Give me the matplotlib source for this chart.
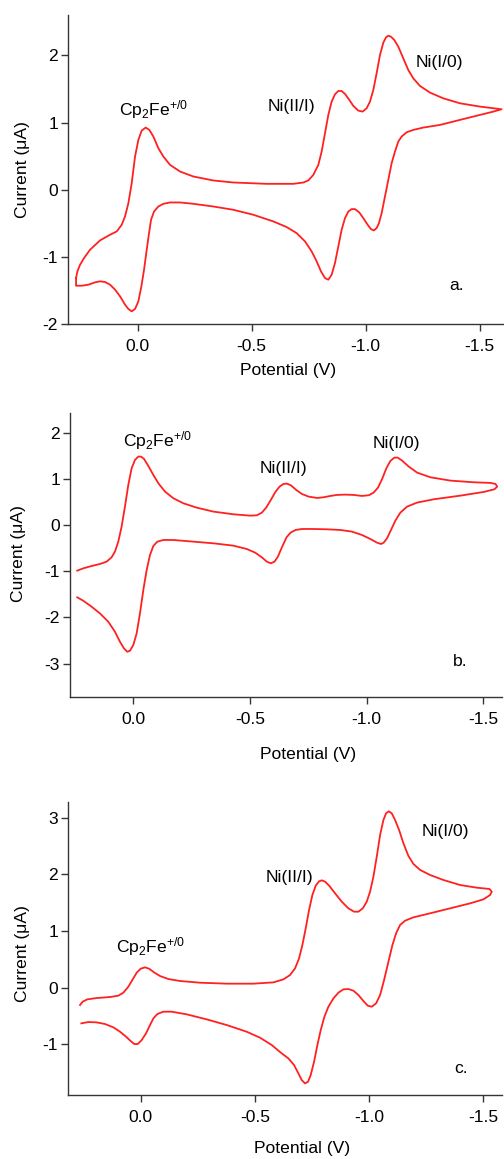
import matplotlib
matplotlib.use("Agg")
import matplotlib.pyplot as plt

plt.rcParams['font.family'] = ['Liberation Sans', 'DejaVu Sans']
plt.rcParams['mathtext.fontset'] = 'custom'
plt.rcParams['mathtext.rm'] = 'Liberation Sans'
plt.rcParams['mathtext.default'] = 'regular'

# ---------------- data (potential in V, current in uA) ----------------
E_a = [0.2705, 0.2646, 0.2529, 0.2354, 0.2091, 0.1652, 0.1213, 0.0921, 0.0702, 0.0556, 0.0409,
       0.0263, 0.0117, -0.0029, -0.0175, -0.0351, -0.0512, -0.0687, -0.0906, -0.1126, -0.1418,
       -0.1857, -0.2442, -0.3319, -0.4196, -0.5658, -0.6827, -0.7266, -0.7485, -0.7705, -0.7924,
       -0.8070, -0.8216, -0.8363, -0.8509, -0.8655, -0.8801, -0.8947, -0.9094, -0.9284, -0.9459,
       -0.9678, -0.9868, -1.0044, -1.0190, -1.0336, -1.0482, -1.0629, -1.0775, -1.0892, -1.0994,
       -1.1111, -1.1257, -1.1433, -1.1652, -1.1871, -1.2091, -1.2383, -1.2822, -1.3406, -1.4137,
       -1.5015, -1.5965,
       -1.5599, -1.5015, -1.4137, -1.3260, -1.2529, -1.2091, -1.1798, -1.1579, -1.1433, -1.1287,
       -1.1140, -1.0994, -1.0848, -1.0702, -1.0585, -1.0482, -1.0365, -1.0234, -1.0088, -0.9898,
       -0.9722, -0.9532, -0.9386, -0.9240, -0.9094, -0.8947, -0.8801, -0.8655, -0.8509, -0.8363,
       -0.8216, -0.8041, -0.7851, -0.7632, -0.7339, -0.6974, -0.6535, -0.5950, -0.5073, -0.4196,
       -0.3319, -0.2442, -0.1857, -0.1418, -0.1126, -0.0906, -0.0716, -0.0585, -0.0497, -0.0395,
       -0.0278, -0.0161, -0.0029, 0.0117, 0.0263, 0.0409, 0.0556, 0.0775, 0.0994, 0.1213, 0.1433,
       0.1652, 0.1871, 0.2164, 0.2456, 0.2705, 0.2705]
I_a = [-1.312, -1.213, -1.114, -1.015, -0.891, -0.752, -0.668, -0.619, -0.520, -0.396, -0.198,
       0.099, 0.495, 0.743, 0.881, 0.926, 0.891, 0.792, 0.619, 0.495, 0.371,
       0.272, 0.198, 0.139, 0.109, 0.089, 0.089, 0.109, 0.139, 0.223, 0.371,
       0.569, 0.842, 1.114, 1.312, 1.421, 1.470, 1.470, 1.426, 1.337, 1.248,
       1.178, 1.163, 1.213, 1.312, 1.485, 1.733, 2.005, 2.188, 2.267, 2.292,
       2.277, 2.228, 2.129, 1.955, 1.782, 1.658, 1.545, 1.446, 1.361, 1.287,
       1.238, 1.198,
       1.163, 1.114, 1.040, 0.965, 0.926, 0.891, 0.856, 0.792, 0.718, 0.569,
       0.396, 0.149, -0.099, -0.347, -0.495, -0.569, -0.604, -0.584, -0.520, -0.421,
       -0.337, -0.287, -0.287, -0.322, -0.421, -0.594, -0.842, -1.089, -1.262, -1.337,
       -1.312, -1.213, -1.064, -0.916, -0.767, -0.644, -0.554, -0.470, -0.371, -0.297,
       -0.248, -0.208, -0.188, -0.188, -0.208, -0.248, -0.322, -0.446, -0.644, -0.891,
       -1.188, -1.436, -1.658, -1.772, -1.807, -1.772, -1.708, -1.584, -1.485, -1.411, -1.371,
       -1.361, -1.376, -1.411, -1.426, -1.426, -1.312]

E_b = [0.2403, 0.2146, 0.1788, 0.1431, 0.1144, 0.0930, 0.0787, 0.0644, 0.0501, 0.0358, 0.0215,
       0.0072, -0.0072, -0.0215, -0.0329, -0.0458, -0.0644, -0.0858, -0.1073, -0.1359, -0.1717,
       -0.2146, -0.2718, -0.3433, -0.4292, -0.5007, -0.5293, -0.5508, -0.5694, -0.5894, -0.6080,
       -0.6266, -0.6438, -0.6581, -0.6753, -0.6981, -0.7225, -0.7511, -0.7868, -0.8155, -0.8441,
       -0.8727, -0.9084, -0.9442, -0.9800, -1.0086, -1.0300, -1.0486, -1.0658, -1.0844, -1.1016,
       -1.1187, -1.1330, -1.1516, -1.1803, -1.2160, -1.2732, -1.3591, -1.4592, -1.5308, -1.5522,
       -1.5594, -1.5479, -1.5021, -1.4020, -1.2876, -1.2160, -1.1731, -1.1445, -1.1230, -1.1044,
       -1.0873, -1.0730, -1.0615, -1.0443, -1.0157, -0.9800, -0.9371, -0.8870, -0.8298, -0.7725,
       -0.7225, -0.6953, -0.6738, -0.6567, -0.6381, -0.6195, -0.6052, -0.5894, -0.5722, -0.5508,
       -0.5222, -0.4864, -0.4292, -0.3433, -0.2575, -0.1717, -0.1288, -0.1030, -0.0858, -0.0715,
       -0.0572, -0.0429, -0.0286, -0.0143, 0.0000, 0.0143, 0.0258, 0.0401, 0.0572, 0.0787, 0.1073,
       0.1431, 0.1788, 0.2146, 0.2403]
I_b = [-0.989, -0.939, -0.888, -0.845, -0.794, -0.700, -0.578, -0.361, -0.036, 0.397, 0.866,
       1.227, 1.408, 1.480, 1.480, 1.430, 1.278, 1.083, 0.903, 0.722, 0.578,
       0.469, 0.375, 0.289, 0.231, 0.202, 0.209, 0.267, 0.375, 0.542, 0.708,
       0.830, 0.888, 0.895, 0.859, 0.758, 0.671, 0.614, 0.585, 0.599, 0.628,
       0.650, 0.657, 0.650, 0.628, 0.643, 0.700, 0.809, 0.989, 1.227, 1.386,
       1.458, 1.458, 1.394, 1.264, 1.134, 1.032, 0.960, 0.924, 0.910, 0.888,
       0.830, 0.773, 0.715, 0.635, 0.556, 0.484, 0.397, 0.267, 0.094, -0.108,
       -0.289, -0.383, -0.412, -0.383, -0.303, -0.217, -0.144, -0.108, -0.094, -0.087,
       -0.087, -0.108, -0.166, -0.267, -0.469, -0.686, -0.794, -0.830, -0.794, -0.700,
       -0.599, -0.520, -0.448, -0.397, -0.361, -0.325, -0.325, -0.361, -0.455, -0.650,
       -0.975, -1.408, -1.913, -2.347, -2.599, -2.722, -2.744, -2.671, -2.527, -2.310, -2.094,
       -1.913, -1.769, -1.639, -1.567]

E_c = [0.2657, 0.2540, 0.2336, 0.1927, 0.1343, 0.0978, 0.0759, 0.0540, 0.0350, 0.0175, 0.0000,
       -0.0190, -0.0365, -0.0584, -0.0847, -0.1212, -0.1723, -0.2599, -0.3766, -0.4934, -0.5810,
       -0.6248, -0.6540, -0.6759, -0.6934, -0.7080, -0.7226, -0.7372, -0.7518, -0.7664, -0.7810,
       -0.7927, -0.8073, -0.8263, -0.8511, -0.8803, -0.9095, -0.9343, -0.9533, -0.9723, -0.9898,
       -1.0044, -1.0190, -1.0336, -1.0482, -1.0628, -1.0745, -1.0861, -1.0993, -1.1139, -1.1314,
       -1.1504, -1.1723, -1.1942, -1.2234, -1.2672, -1.3255, -1.3985, -1.4715, -1.5270, -1.5372,
       -1.5299, -1.5007, -1.4423, -1.3547, -1.2672, -1.1942, -1.1577, -1.1358, -1.1182, -1.1022,
       -1.0847, -1.0657, -1.0482, -1.0307, -1.0117, -0.9942, -0.9752, -0.9533, -0.9314, -0.9095,
       -0.8876, -0.8657, -0.8438, -0.8219, -0.8044, -0.7883, -0.7737, -0.7591, -0.7445, -0.7328,
       -0.7197, -0.7051, -0.6905, -0.6715, -0.6467, -0.6175, -0.5737, -0.5226, -0.4642, -0.3766,
       -0.2891, -0.2015, -0.1358, -0.0993, -0.0730, -0.0555, -0.0409, -0.0234, -0.0044, 0.0131,
       0.0277, 0.0438, 0.0642, 0.0905, 0.1197, 0.1562, 0.1927, 0.2292, 0.2599]
I_c = [-0.306, -0.247, -0.206, -0.183, -0.165, -0.141, -0.088, 0.018, 0.147, 0.265, 0.336,
       0.359, 0.336, 0.271, 0.206, 0.153, 0.118, 0.088, 0.071, 0.071, 0.094,
       0.147, 0.224, 0.342, 0.518, 0.754, 1.049, 1.373, 1.638, 1.803, 1.879,
       1.897, 1.873, 1.797, 1.667, 1.520, 1.402, 1.343, 1.343, 1.402, 1.520,
       1.697, 1.962, 2.315, 2.698, 2.963, 3.081, 3.116, 3.081, 2.963, 2.786,
       2.551, 2.327, 2.186, 2.080, 1.991, 1.903, 1.814, 1.767, 1.744, 1.697,
       1.638, 1.561, 1.490, 1.402, 1.314, 1.243, 1.184, 1.108, 0.960, 0.754,
       0.459, 0.135, -0.130, -0.277, -0.336, -0.318, -0.236, -0.130, -0.053, -0.024,
       -0.029, -0.088, -0.189, -0.336, -0.513, -0.748, -1.013, -1.308, -1.543, -1.661,
       -1.691, -1.632, -1.514, -1.367, -1.249, -1.161, -1.013, -0.884, -0.778, -0.660,
       -0.560, -0.471, -0.424, -0.424, -0.465, -0.542, -0.660, -0.807, -0.925, -0.996,
       -0.996, -0.943, -0.866, -0.778, -0.701, -0.642, -0.613, -0.607, -0.630]

x_ticks = [0.0, -0.5, -1.0, -1.5]
x_ticklabels = ['0.0', '-0.5', '-1.0', '-1.5']
y_ticks_a = [-2, -1, 0, 1, 2]
y_ticks_b = [-3, -2, -1, 0, 1, 2]
y_ticks_c = [-1, 0, 1, 2, 3]

cp_label = r'Cp$_2$Fe$^{+/0}$'
ni21_label = 'Ni(II/I)'
ni10_label = 'Ni(I/0)'
panel_labels = ['a.', 'b.', 'c.']
xlabel = 'Potential (V)'
ylabel = 'Current (\u03bcA)'

# ---------------- figure ----------------
W, H = 504, 1159
fig = plt.figure(figsize=(W / 100, H / 100), dpi=100)
FS = 12.6
RED = '#ff2020'
SPINE = '#3a3333'


def px_axes(left, top, right, bottom):
    return fig.add_axes([left / W, 1 - bottom / H, (right - left) / W, (bottom - top) / H])


panels = [
    dict(box=(68.3, 15, 504, 324.3), xlim=(0.3045, -1.607), ylim=(-2.0, 2.6), E=E_a, I=I_a,
         yt=y_ticks_a, xlab=(288, 370), ylab=(23, 169.5),
         ann=[(0.080, 1.114, cp_label), (-0.570, 1.178, ni21_label), (-1.221, 1.822, ni10_label),
              (-1.367, -1.495, panel_labels[0])]),
    dict(box=(70.3, 412.7, 502, 697.3), xlim=(0.270, -1.580), ylim=(-3.73, 2.43), E=E_b, I=I_b,
         yt=y_ticks_b, xlab=(308, 755), ylab=(19, 554),
         ann=[(0.043, 1.711, cp_label), (-0.541, 1.119, ni21_label), (-1.026, 1.661, ni10_label),
              (-1.371, -3.054, panel_labels[1])]),
    dict(box=(68.3, 801.7, 502, 1095), xlim=(0.317, -1.582), ylim=(-1.896, 3.286), E=E_c, I=I_c,
         yt=y_ticks_c, xlab=(302, 1148), ylab=(23, 954),
         ann=[(0.109, 0.624, cp_label), (-0.546, 1.867, ni21_label), (-1.231, 2.680, ni10_label),
              (-1.374, -1.502, panel_labels[2])]),
]

for p in panels:
    ax = px_axes(*p['box'])
    ax.plot(p['E'], p['I'], color=RED, lw=1.3, solid_joinstyle='round', clip_on=True)
    ax.set_xlim(*p['xlim'])
    ax.set_ylim(*p['ylim'])
    for s in ('top', 'right'):
        ax.spines[s].set_visible(False)
    for s in ('left', 'bottom'):
        ax.spines[s].set_color(SPINE)
        ax.spines[s].set_linewidth(1.0)
    ax.set_xticks(x_ticks)
    ax.set_xticklabels(x_ticklabels)
    ax.set_yticks(p['yt'])
    ax.set_yticklabels([str(v) for v in p['yt']])
    ax.tick_params(axis='x', direction='out', length=5, width=1, color=SPINE, pad=5.5, labelsize=FS)
    ax.tick_params(axis='y', direction='out', length=5, width=1, color=SPINE, pad=2.5, labelsize=FS)
    ax.set_xlabel(xlabel, fontsize=FS)
    ax.set_ylabel(ylabel, fontsize=FS)
    ax.xaxis.set_label_coords(p['xlab'][0] / W, 1 - p['xlab'][1] / H, transform=fig.transFigure)
    ax.xaxis.label.set_va('center')
    ax.yaxis.set_label_coords(p['ylab'][0] / W, 1 - p['ylab'][1] / H, transform=fig.transFigure)
    ax.yaxis.label.set_va('center')
    for (x, y, t) in p['ann']:
        ax.text(x, y, t, fontsize=FS, ha='left', va='baseline', color='black')

fig.savefig('out.png', dpi=100)
